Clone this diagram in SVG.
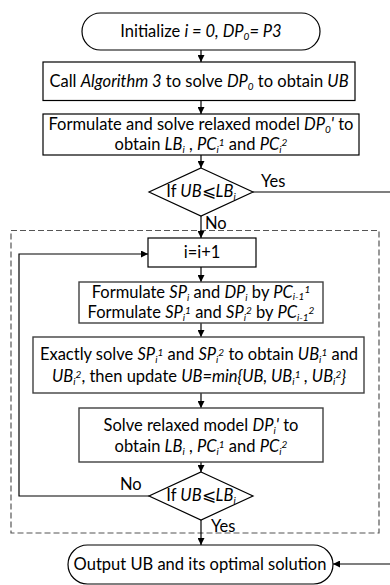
<svg xmlns="http://www.w3.org/2000/svg" width="390" height="585" viewBox="0 0 390 585">
<defs>
<marker id="ah" viewBox="0 0 8 8" refX="8" refY="4" markerWidth="7" markerHeight="7" markerUnits="userSpaceOnUse" orient="auto">
<path d="M0,0 L8,4 L0,8 z" fill="#000"/>
</marker>
<style>
.box{fill:#fff;stroke:#000;stroke-width:1.2}
.gbox{fill:#fff;stroke:#404040;stroke-width:1.4}
.ln{fill:none;stroke:#000;stroke-width:1.2}
.t{font-family:Lato,"Liberation Sans",sans-serif;font-size:16.5px;fill:#000;text-anchor:middle}
.l{font-family:Lato,"Liberation Sans",sans-serif;font-size:16.5px;fill:#000}
.i{font-style:italic}
.s{font-size:10px}
</style>
</defs>
<rect x="11" y="230.5" width="368" height="302.5" fill="none" stroke="#555" stroke-width="1.2" stroke-dasharray="6,3"/>
<g id="connectors">
<path class="ln" d="M201,50 V62" marker-end="url(#ah)"/>
<path class="ln" d="M201,100.5 V114" marker-end="url(#ah)"/>
<path class="ln" d="M201,155 V168" marker-end="url(#ah)"/>
<path class="ln" d="M253,192 H390"/>
<path class="ln" d="M201,216 V238" marker-end="url(#ah)"/>
<path class="ln" d="M201,267 V282" marker-end="url(#ah)"/>
<path class="ln" d="M201,323 V337" marker-end="url(#ah)"/>
<path class="ln" d="M201,393 V408" marker-end="url(#ah)"/>
<path class="ln" d="M201,462 V472" marker-end="url(#ah)"/>
<path class="ln" d="M149,496 H19 V254 H148" marker-end="url(#ah)"/>
<path class="ln" d="M201,520 V545" marker-end="url(#ah)"/>
<path class="ln" d="M390,564 H333" marker-end="url(#ah)"/>
<text class="l" x="261" y="187">Yes</text>
<text class="l" x="205" y="229">No</text>
<text class="l" x="120" y="490">No</text>
<text class="l" x="211" y="532">Yes</text>
</g>
<g id="start">
<rect class="box" x="82" y="13" width="238" height="37" rx="18.5"/>
<text class="t" x="201" y="37">Initialize <tspan class="i">i = 0, DP</tspan><tspan class="i s" dy="3">0</tspan><tspan class="i" dy="-3">= P3</tspan></text>
</g>
<g id="call">
<rect class="box" x="43" y="62" width="312" height="38.5"/>
<text class="t" x="199" y="87">Call <tspan class="i">Algorithm 3</tspan> to solve <tspan class="i">DP</tspan><tspan class="i s" dy="3">0</tspan><tspan dy="-3"> to obtain </tspan><tspan class="i">UB</tspan></text>
</g>
<g id="formulate0">
<rect class="box" x="43" y="114" width="316" height="41"/>
<text class="t" x="201" y="130">Formulate and solve relaxed model <tspan class="i">DP</tspan><tspan class="i s" dy="2.5">0</tspan><tspan class="i" dy="-2.5">'</tspan> to</text>
<text class="t" x="201" y="150">obtain <tspan class="i">LB</tspan><tspan class="i s" dy="2.5">i</tspan><tspan dy="-2.5"> , </tspan><tspan class="i">PC</tspan><tspan class="i s" dy="2.5">i</tspan><tspan class="i s" dy="-7">1</tspan><tspan dy="4.5">  and </tspan><tspan class="i">PC</tspan><tspan class="i s" dy="2.5">i</tspan><tspan class="i s" dy="-7">2</tspan></text>
</g>
<g id="check0">
<polygon class="box" points="201,168 253,192 201,216 149,192"/>
<text class="t" x="201" y="197">If <tspan class="i">UB</tspan>⩽<tspan class="i">LB</tspan><tspan class="i s" dy="3">i</tspan></text>
</g>
<g id="increment">
<rect class="box" x="148" y="238" width="108" height="29"/>
<text class="t" x="202" y="258">i=i+1</text>
</g>
<g id="formulate">
<rect class="gbox" x="79" y="282" width="244" height="41"/>
<text class="t" x="201" y="298">Formulate <tspan class="i">SP</tspan><tspan class="i s" dy="2.5">i</tspan><tspan dy="-2.5"> and </tspan><tspan class="i">DP</tspan><tspan class="i s" dy="2.5">i</tspan><tspan dy="-2.5"> by </tspan><tspan class="i">PC</tspan><tspan class="i s" dy="2">i-1</tspan><tspan class="i s" dy="-7">1</tspan></text>
<text class="t" x="201" y="318">Formulate <tspan class="i">SP</tspan><tspan class="i s" dy="2.5">i</tspan><tspan class="i s" dy="-7">1</tspan><tspan dy="4.5"> and </tspan><tspan class="i">SP</tspan><tspan class="i s" dy="2.5">i</tspan><tspan class="i s" dy="-7">2</tspan><tspan dy="4.5"> by </tspan><tspan class="i">PC</tspan><tspan class="i s" dy="2.5">i-1</tspan><tspan class="i s" dy="-7">2</tspan></text>
</g>
<g id="solve">
<rect class="gbox" x="33" y="337" width="331" height="56"/>
<text class="t" x="199" y="360">Exactly solve <tspan class="i">SP</tspan><tspan class="i s" dy="2.5">i</tspan><tspan class="i s" dy="-7">1</tspan><tspan dy="4.5"> and </tspan><tspan class="i">SP</tspan><tspan class="i s" dy="2.5">i</tspan><tspan class="i s" dy="-7">2</tspan><tspan dy="4.5"> to obtain </tspan><tspan class="i">UB</tspan><tspan class="i s" dy="2.5">i</tspan><tspan class="i s" dy="-7">1</tspan><tspan dy="4.5"> and</tspan></text>
<text class="t" x="199" y="382"><tspan class="i">UB</tspan><tspan class="i s" dy="2.5">i</tspan><tspan class="i s" dy="-7">2</tspan><tspan dy="4.5">, then update </tspan><tspan class="i">UB=min{UB, UB</tspan><tspan class="i s" dy="2.5">i</tspan><tspan class="i s" dy="-7">1</tspan><tspan class="i" dy="4.5"> , UB</tspan><tspan class="i s" dy="2.5">i</tspan><tspan class="i s" dy="-7">2</tspan><tspan class="i" dy="4.5">}</tspan></text>
</g>
<g id="relax">
<rect class="gbox" x="79" y="408" width="244" height="54"/>
<text class="t" x="201" y="431">Solve relaxed model <tspan class="i">DP</tspan><tspan class="i s" dy="2.5">i</tspan><tspan class="i" dy="-2.5">'</tspan>  to</text>
<text class="t" x="201" y="452">obtain <tspan class="i">LB</tspan><tspan class="i s" dy="2.5">i</tspan><tspan dy="-2.5"> , </tspan><tspan class="i">PC</tspan><tspan class="i s" dy="2.5">i</tspan><tspan class="i s" dy="-7">1</tspan><tspan dy="4.5">  and </tspan><tspan class="i">PC</tspan><tspan class="i s" dy="2.5">i</tspan><tspan class="i s" dy="-7">2</tspan></text>
</g>
<g id="check">
<polygon class="box" points="201,472 253,496 201,520 149,496"/>
<text class="t" x="201" y="501">If <tspan class="i">UB</tspan>⩽<tspan class="i">LB</tspan><tspan class="i s" dy="3">i</tspan></text>
</g>
<g id="output">
<rect class="box" x="68" y="545" width="265" height="39" rx="19.5"/>
<text class="t" x="200" y="570">Output UB and its optimal solution</text>
</g>
</svg>
